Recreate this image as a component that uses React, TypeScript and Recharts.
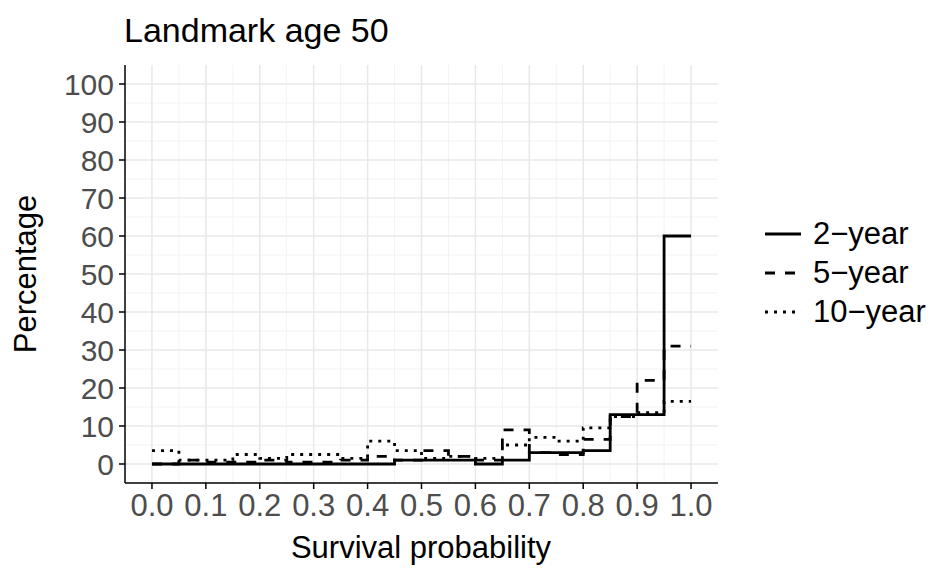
import { LineChart, Line, XAxis, YAxis, CartesianGrid } from "recharts";

// survival probability bins (left edge, last point closes the final step)
const probs = [0, 0.05, 0.1, 0.15, 0.2, 0.25, 0.3, 0.35, 0.4, 0.45, 0.5, 0.55, 0.6, 0.65, 0.7, 0.75, 0.8, 0.85, 0.9, 0.95, 1.0];

const twoYear = [0, 0, 0, 0, 0, 0, 0, 0, 0, 1, 1, 1, 0, 1, 3, 3, 3.5, 13, 13, 60, 60];
const fiveYear = [0, 1, 0.5, 0.5, 1, 0.5, 0.5, 1, 2, 1, 3.5, 2, 1, 9, 3, 2.5, 6.5, 12.5, 22, 31, 31];
const tenYear = [3.5, 1, 1, 2.5, 1.5, 2.5, 2.5, 1.5, 6, 3.5, 1.5, 2, 1.5, 5, 7, 6, 9.5, 12.5, 13.5, 16.5, 16.5];

const xTicks = [0, 0.1, 0.2, 0.3, 0.4, 0.5, 0.6, 0.7, 0.8, 0.9, 1.0];
const yTicks = [0, 10, 20, 30, 40, 50, 60, 70, 80, 90, 100];
const xMinor = [0.05, 0.15, 0.25, 0.35, 0.45, 0.55, 0.65, 0.75, 0.85, 0.95];
const yMinor = [5, 15, 25, 35, 45, 55, 65, 75, 85, 95];

const series = [
  { key: "two", name: "2\u2212year", dash: undefined },
  { key: "five", name: "5\u2212year", dash: "10 10" },
  { key: "ten", name: "10\u2212year", dash: "3 6" },
];

const rows = probs.map((p, i) => ({ p, two: twoYear[i], five: fiveYear[i], ten: tenYear[i] }));

const font = '"Liberation Sans", Arial, sans-serif';

export default function App() {
  return (
    <div style={{ position: "absolute", left: 0, top: 0, width: 938, height: 572, background: "#fff", fontFamily: font }}>
      <div style={{ position: "absolute", left: 124, top: 10, fontSize: 34, lineHeight: "40px", color: "#000" }}>
        Landmark age 50
      </div>
      <LineChart width={938} height={572} data={rows} margin={{ top: 65, right: 220, bottom: 49, left: 65 }}>
        <CartesianGrid horizontalValues={yMinor} verticalValues={xMinor} stroke="#f3f3f3" strokeWidth={1} />
        <CartesianGrid horizontalValues={yTicks} verticalValues={xTicks} stroke="#e8e8e8" strokeWidth={1.5} />
        <XAxis
          dataKey="p"
          type="number"
          domain={[-0.05, 1.05]}
          ticks={xTicks}
          interval={0}
          tickFormatter={(v: number) => v.toFixed(1)}
          allowDataOverflow
          height={40}
          tickSize={6}
          tickMargin={5}
          axisLine={{ stroke: "#000", strokeWidth: 1.5 }}
          tickLine={{ stroke: "#000", strokeWidth: 1.5 }}
          tick={{ fontSize: 31, fill: "#4d4d4d", fontFamily: font }}
        />
        <YAxis
          type="number"
          domain={[-5, 105]}
          ticks={yTicks}
          interval={0}
          allowDataOverflow
          width={60}
          tickSize={6}
          tickMargin={5}
          axisLine={{ stroke: "#000", strokeWidth: 1.5 }}
          tickLine={{ stroke: "#000", strokeWidth: 1.5 }}
          tick={{ fontSize: 30, fill: "#4d4d4d", fontFamily: font }}
        />
        {series.map((s) => (
          <Line
            key={s.key}
            dataKey={s.key}
            name={s.name}
            type="stepAfter"
            stroke="#000"
            strokeWidth={2.8}
            strokeDasharray={s.dash}
            dot={false}
            activeDot={false}
            isAnimationActive={false}
          />
        ))}
      </LineChart>
      <div style={{ position: "absolute", left: 6, top: 274, width: 0, height: 0 }}>
        <div style={{ position: "absolute", transform: "translate(-50%, -50%) rotate(-90deg)", left: 20, top: 0, fontSize: 31, whiteSpace: "nowrap" }}>
          Percentage
        </div>
      </div>
      <div style={{ position: "absolute", left: 121, width: 600, top: 530, textAlign: "center", fontSize: 31, lineHeight: "36px" }}>
        Survival probability
      </div>
      {series.map((s, i) => (
        <div key={s.key} style={{ position: "absolute", left: 763, top: 216 + i * 39, height: 36, display: "flex", alignItems: "center" }}>
          <svg width={40} height={36}>
            <line x1={2} y1={18} x2={38} y2={18} stroke="#000" strokeWidth={2.8} strokeDasharray={s.dash} />
          </svg>
          <span style={{ marginLeft: 10, fontSize: 31, lineHeight: "36px" }}>{s.name}</span>
        </div>
      ))}
    </div>
  );
}
